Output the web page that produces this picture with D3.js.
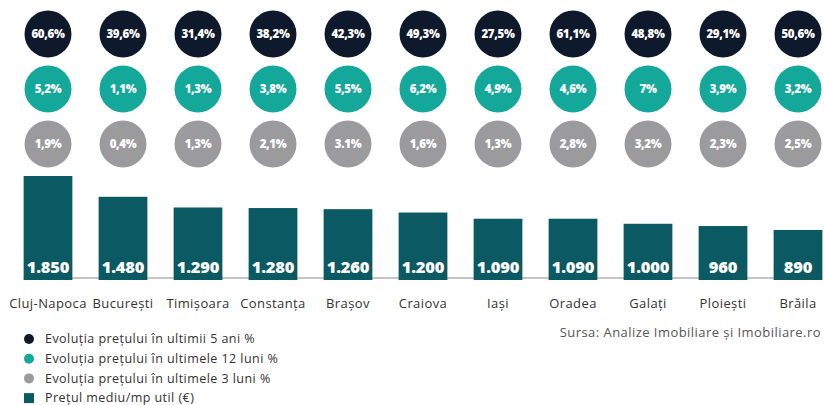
<!DOCTYPE html>
<html>
<head>
<meta charset="utf-8">
<script src="https://cdn.jsdelivr.net/npm/d3@7"></script>
<style>
  html, body { margin: 0; padding: 0; background: #fff; }
  svg { display: block; font-family: 'Open Sans', sans-serif; }
</style>
</head>
<body>
<svg></svg>
<script>
const width = 824;
const height = 405;

// data
const cities = ['Cluj-Napoca', 'București', 'Timișoara', 'Constanța', 'Brașov', 'Craiova', 'Iași', 'Oradea', 'Galați', 'Ploiești', 'Brăila'];
const evol5ani = ['60,6%', '39,6%', '31,4%', '38,2%', '42,3%', '49,3%', '27,5%', '61,1%', '48,8%', '29,1%', '50,6%'];
const evol12luni = ['5,2%', '1,1%', '1,3%', '3,8%', '5,5%', '6,2%', '4,9%', '4,6%', '7%', '3,9%', '3,2%'];
const evol3luni = ['1,9%', '0,4%', '1,3%', '2,1%', '3.1%', '1,6%', '1,3%', '2,8%', '3,2%', '2,3%', '2,5%'];
const pretMediu = [1850, 1480, 1290, 1280, 1260, 1200, 1090, 1090, 1000, 960, 890];
const legendLabels = [
  'Evoluția prețului în ultimii 5 ani %',
  'Evoluția prețului în ultimele 12 luni %',
  'Evoluția prețului în ultimele 3 luni %',
  'Prețul mediu/mp util (€)'
];

const colors = { dark: '#0e1a2c', teal: '#14a89a', grey: '#9b9b9d', bar: '#0b5a63' };

const svg = d3.select('svg').attr('width', width).attr('height', height);

const x = d3.scaleBand()
  .domain(cities)
  .range([10.5, 835.5])
  .paddingInner(0.35)
  .paddingOuter(0.175);

const y = d3.scaleLinear().domain([0, 1850]).range([280, 176]);

const fmt = (v) => (v >= 1000 ? d3.format(',')(v).replace(',', '.') : String(v));

// circle rows
const rows = [
  { values: evol5ani, color: colors.dark, cy: 34 },
  { values: evol12luni, color: colors.teal, cy: 89 },
  { values: evol3luni, color: colors.grey, cy: 144 }
];

rows.forEach((row) => {
  const g = svg.append('g').attr('class', 'row');
  const cells = g.selectAll('g').data(cities).enter().append('g')
    .attr('transform', (d) => `translate(${x(d) + x.bandwidth() / 2}, ${row.cy})`);
  cells.append('circle').attr('r', 23.5).attr('fill', row.color);
  cells.append('text')
    .attr('text-anchor', 'middle')
    .attr('dy', '0.36em')
    .attr('fill', '#fff')
    .style('font-size', '11.5px')
    .style('font-weight', 800)
    .style('letter-spacing', '-0.3px')
    .text((d, i) => row.values[i]);
});

// baseline
svg.append('line')
  .attr('x1', x(cities[0]))
  .attr('x2', x(cities[cities.length - 1]) + x.bandwidth())
  .attr('y1', 278).attr('y2', 278)
  .attr('stroke', '#8a8a8a')
  .attr('stroke-width', 1);

// bars
const bars = svg.append('g').attr('class', 'bars')
  .selectAll('g').data(pretMediu).enter().append('g');

bars.append('rect')
  .attr('x', (d, i) => x(cities[i]))
  .attr('y', (d) => y(d))
  .attr('width', x.bandwidth())
  .attr('height', (d) => y(0) - y(d))
  .attr('fill', colors.bar);

bars.append('text')
  .attr('x', (d, i) => x(cities[i]) + x.bandwidth() / 2)
  .attr('y', 273)
  .attr('text-anchor', 'middle')
  .attr('fill', '#fff')
  .style('font-size', '16.5px')
  .style('font-weight', 800)
  .style('letter-spacing', '-0.2px')
  .text(fmt);

// category labels
svg.append('g').selectAll('text').data(cities).enter().append('text')
  .attr('x', (d) => x(d) + x.bandwidth() / 2)
  .attr('y', 308)
  .attr('text-anchor', 'middle')
  .attr('fill', '#333')
  .style('font-size', '13px')
  .style('letter-spacing', '0.4px')
  .text((d) => d);

// legend
const legend = svg.append('g').attr('transform', 'translate(29, 339)');
const legendColors = [colors.dark, colors.teal, colors.grey, colors.bar];
const items = legend.selectAll('g').data(legendLabels).enter().append('g')
  .attr('transform', (d, i) => `translate(0, ${i * 19.7})`);
items.each(function (d, i) {
  const s = d3.select(this);
  if (i < 3) s.append('circle').attr('r', 5).attr('fill', legendColors[i]);
  else s.append('rect').attr('x', -5).attr('y', -5).attr('width', 10).attr('height', 10).attr('fill', legendColors[i]);
});
items.append('text')
  .attr('x', 16)
  .attr('dy', '0.35em')
  .attr('fill', '#333')
  .style('font-size', '12.5px')
  .style('letter-spacing', '0.45px')
  .text((d) => d);

// source
svg.append('text')
  .attr('x', 821)
  .attr('y', 337)
  .attr('text-anchor', 'end')
  .attr('fill', '#555')
  .style('font-size', '13px')
  .style('letter-spacing', '0.45px')
  .text('Sursa: Analize Imobiliare și Imobiliare.ro');
</script>
</body>
</html>
